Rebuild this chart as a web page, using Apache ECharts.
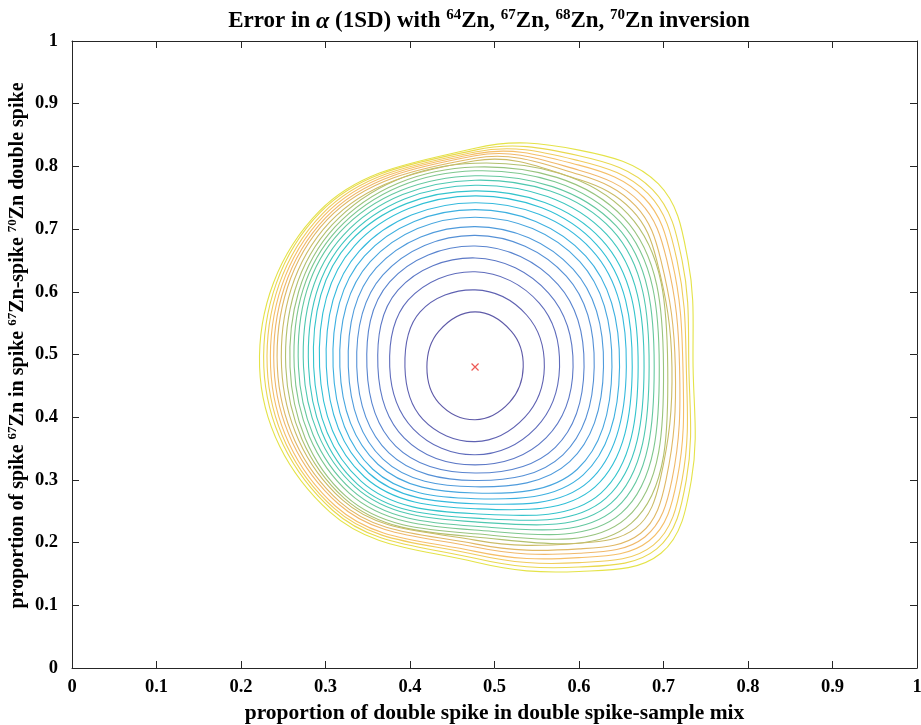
<!DOCTYPE html>
<html>
<head>
<meta charset="utf-8">
<script src="https://cdn.jsdelivr.net/npm/echarts@6/dist/echarts.min.js"></script>
<style>
  html, body { margin: 0; padding: 0; background: #fff; }
  #chart { width: 921px; height: 725px; }
</style>
</head>
<body>
<div id="chart"></div>
<script>
// tick labels on both axes
var tickLabels = ['0', '0.1', '0.2', '0.3', '0.4', '0.5', '0.6', '0.7', '0.8', '0.9', '1'];

// position of the minimum (red cross)
var minX = 0.477;
var minY = 0.480;

// contour crossings, innermost level first, read along 8 rays from the minimum
var rayE = [0.534, 0.559, 0.577, 0.593, 0.606, 0.618, 0.629, 0.639, 0.648, 0.656, 0.663, 0.670, 0.677,
  0.683, 0.689, 0.695, 0.700, 0.705, 0.710, 0.714, 0.719, 0.723, 0.727, 0.730, 0.735];
var rayW = [0.420, 0.394, 0.376, 0.362, 0.349, 0.337, 0.327, 0.317, 0.309, 0.301, 0.293, 0.286, 0.280,
  0.274, 0.268, 0.263, 0.258, 0.253, 0.248, 0.243, 0.239, 0.235, 0.231, 0.227, 0.222];
var rayN = [0.568, 0.603, 0.632, 0.654, 0.673, 0.690, 0.704, 0.719, 0.731, 0.742, 0.753, 0.761, 0.770,
  0.778, 0.785, 0.793, 0.799, 0.805, 0.809, 0.813, 0.817, 0.820, 0.823, 0.826, 0.829];
var rayS = [0.396, 0.361, 0.340, 0.324, 0.311, 0.299, 0.289, 0.279, 0.270, 0.262, 0.254, 0.246, 0.239,
  0.233, 0.226, 0.220, 0.214, 0.209, 0.204, 0.198, 0.193, 0.186, 0.181, 0.175, 0.169];
var rayNE = [[0.520, 0.537], [0.538, 0.563], [0.553, 0.582], [0.564, 0.598], [0.575, 0.612], [0.585, 0.625],
  [0.593, 0.636], [0.601, 0.648], [0.608, 0.657], [0.615, 0.667], [0.621, 0.675], [0.627, 0.683],
  [0.633, 0.691], [0.639, 0.699], [0.644, 0.705], [0.649, 0.711], [0.653, 0.718], [0.658, 0.724],
  [0.663, 0.730], [0.667, 0.737], [0.672, 0.743], [0.677, 0.750], [0.682, 0.756], [0.687, 0.763], [0.694, 0.772]];
var rayNW = [[0.434, 0.537], [0.412, 0.568], [0.398, 0.587], [0.386, 0.603], [0.376, 0.616], [0.368, 0.627],
  [0.360, 0.638], [0.353, 0.648], [0.346, 0.657], [0.340, 0.665], [0.334, 0.673], [0.329, 0.680],
  [0.325, 0.685], [0.321, 0.690], [0.317, 0.695], [0.314, 0.699], [0.311, 0.703], [0.308, 0.707],
  [0.305, 0.711], [0.302, 0.715], [0.300, 0.718], [0.298, 0.721], [0.296, 0.724], [0.294, 0.727], [0.293, 0.729]];
var raySE = [[0.518, 0.424], [0.536, 0.400], [0.549, 0.383], [0.561, 0.367], [0.572, 0.352], [0.581, 0.340],
  [0.589, 0.329], [0.598, 0.317], [0.605, 0.308], [0.612, 0.298], [0.619, 0.289], [0.626, 0.279],
  [0.632, 0.271], [0.638, 0.263], [0.644, 0.255], [0.650, 0.247], [0.656, 0.239], [0.662, 0.231],
  [0.667, 0.223], [0.673, 0.215], [0.678, 0.209], [0.683, 0.203], [0.688, 0.196], [0.692, 0.190], [0.697, 0.183]];
var raySW = [[0.434, 0.423], [0.415, 0.397], [0.404, 0.381], [0.393, 0.367], [0.383, 0.354], [0.375, 0.343],
  [0.368, 0.333], [0.362, 0.325], [0.356, 0.317], [0.351, 0.311], [0.346, 0.305], [0.342, 0.298],
  [0.338, 0.293], [0.335, 0.289], [0.331, 0.284], [0.328, 0.279], [0.324, 0.274], [0.322, 0.271],
  [0.320, 0.268], [0.317, 0.265], [0.315, 0.262], [0.312, 0.258], [0.310, 0.255], [0.308, 0.252], [0.305, 0.249]];

// extra crossings on the squarer outer levels (null where not used)
var scanX = 0.600;          // vertical line: top and bottom crossings
var scanYHigh = 0.650;      // horizontal lines: right-hand crossings
var scanYLow = 0.300;
var topAtX = [null, null, null, null, null, null, null, null, null, null, null, null, null, null, null,
  null, null, null, 0.779, 0.787, 0.794, 0.802, 0.809, 0.817, 0.826];
var bottomAtX = [null, null, null, null, null, null, null, null, null, null, null, null, null, null, null,
  null, null, null, 0.199, 0.190, 0.183, 0.176, 0.168, 0.161, 0.154];
var rightAtHigh = [null, null, null, null, null, null, null, null, null, null, null, null, null, null, null,
  null, null, null, 0.692, 0.697, 0.704, 0.710, 0.716, 0.722, 0.729];
var rightAtLow = [null, null, null, null, null, null, null, null, null, null, null, null, null, null, null,
  null, null, null, 0.696, 0.703, 0.710, 0.716, 0.722, 0.727, 0.733];

// line colour of each level, innermost first
var levelColors = ['#5e5aa8', '#5f62b2', '#5f6cbc', '#5c78c6', '#5984cf', '#5590d6', '#4f9bdc', '#47a6df',
  '#3db0e0', '#35b9dd', '#30c0d6', '#34c4cc', '#3ec6bf', '#4fc8b0', '#64c8a0', '#7dc78f', '#98c47e',
  '#b2c06e', '#cbbb66', '#e0b865', '#f0b86a', '#f5bf68', '#f0cc5c', '#e9d94f', '#e4e348'];

function contourLoop(k) {
  var loop = [
    [rayE[k], minY], [rightAtHigh[k], scanYHigh], rayNE[k], [scanX, topAtX[k]],
    [minX, rayN[k]], rayNW[k], [rayW[k], minY], raySW[k], [minX, rayS[k]],
    [scanX, bottomAtX[k]], raySE[k], [rightAtLow[k], scanYLow]
  ];
  return loop.filter(function (p) { return p[0] !== null && p[1] !== null; });
}

var serif = '"Liberation Serif", "Times New Roman", serif';
var ttl = { fontFamily: serif, fontWeight: 'bold', fontSize: 23, lineHeight: 27, color: '#000' };
var ttlSup = { fontFamily: serif, fontWeight: 'bold', fontSize: 15, lineHeight: 16, verticalAlign: 'top', color: '#000' };
var ttlGreek = { fontFamily: serif, fontStyle: 'italic', fontSize: 24, lineHeight: 27, color: '#000' };
var lab = { fontFamily: serif, fontWeight: 'bold', fontSize: 20, lineHeight: 24, color: '#000' };
var labSup = { fontFamily: serif, fontWeight: 'bold', fontSize: 13, lineHeight: 14, verticalAlign: 'top', color: '#000' };

var chart = echarts.init(document.getElementById('chart'));

var frameAxis = {
  min: 0, max: 1, interval: 0.1,
  axisLine: { show: true, onZero: false, lineStyle: { color: '#262626', width: 1 } },
  axisTick: { show: true, inside: true, length: 7, lineStyle: { color: '#262626' } },
  splitLine: { show: false }
};
var tickText = {
  fontFamily: serif, fontWeight: 'bold', fontSize: 18.5, color: '#000',
  formatter: function (v) { return tickLabels[Math.round(v * 10)]; }
};

var option = {
  animation: false,
  backgroundColor: '#fff',
  title: {
    text: '{t|Error in }{a|α}{t| (1SD) with }{s|64}{t|Zn, }{s|67}{t|Zn, }{s|68}{t|Zn, }{s|70}{t|Zn inversion}',
    left: 484, top: 3, textAlign: 'center',
    textStyle: { rich: { t: ttl, s: ttlSup, a: ttlGreek } }
  },
  grid: { left: 72, right: 4, top: 41, bottom: 57, outerBoundsMode: 'none' },
  xAxis: [
    Object.assign({}, frameAxis, {
      type: 'value', position: 'bottom',
      name: 'proportion of double spike in double spike-sample mix',
      nameLocation: 'middle', nameGap: 34, nameMoveOverlap: false,
      nameTextStyle: { fontFamily: serif, fontWeight: 'bold', fontSize: 21.5, color: '#000' },
      axisLabel: Object.assign({ margin: 10 }, tickText)
    }),
    Object.assign({}, frameAxis, { type: 'value', position: 'top', axisLabel: { show: false } })
  ],
  yAxis: [
    Object.assign({}, frameAxis, {
      type: 'value', position: 'left',
      name: '{t|proportion of spike }{s|67}{t|Zn in spike }{s|67}{t|Zn-spike }{s|70}{t|Zn double spike}',
      nameLocation: 'middle', nameGap: 42, nameMoveOverlap: false,
      nameTextStyle: { rich: { t: lab, s: labSup }, padding: [0, 0, 0, 18] },
      axisLabel: Object.assign({ margin: 14 }, tickText)
    }),
    Object.assign({}, frameAxis, { type: 'value', position: 'right', axisLabel: { show: false } })
  ],
  series: [
    {
      type: 'custom',
      coordinateSystem: 'cartesian2d',
      silent: true,
      data: rayE.map(function (x, k) { return [x, minY, k]; }),
      renderItem: function (params, api) {
        var k = params.dataIndex;
        var pts = contourLoop(k).map(function (p) { return api.coord(p); });
        return {
          type: 'polygon',
          shape: { points: pts, smooth: 0.38 },
          style: { fill: 'none', stroke: levelColors[k], lineWidth: 1.1 }
        };
      }
    },
    {
      type: 'scatter',
      silent: true,
      data: [[minX, minY]],
      symbol: 'path://M0,0L10,10M10,0L0,10',
      symbolSize: 7,
      itemStyle: { color: 'none', borderColor: '#e8302a', borderWidth: 1.2 }
    }
  ]
};

chart.setOption(option);
</script>
</body>
</html>
